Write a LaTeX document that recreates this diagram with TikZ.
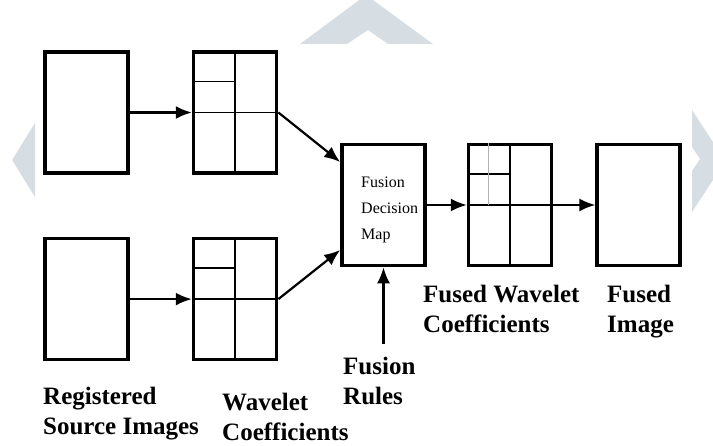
\documentclass[tikz,border=0pt]{standalone}
\usepackage{fontspec}
\setmainfont{Liberation Serif}
\usetikzlibrary{arrows.meta, positioning, calc}
\definecolor{wmark}{RGB}{214,222,227}

\begin{document}
\begin{tikzpicture}[
    x=1pt, y=-1pt,
    node distance=62pt and 62pt,
    img/.style={draw, line width=3.6pt, minimum width=83pt, minimum height=121pt, inner sep=0pt},
    grid/.style={line width=1.6pt},
    faint/.style={line width=0.9pt, black!30},
    arr/.style={-{Latex[length=16pt,width=13pt]}, line width=2.2pt},
    lbl/.style={font=\fontsize{25}{30}\selectfont\bfseries, align=left, inner sep=0pt, anchor=base west},
  ]
    \useasboundingbox (0,0) rectangle (713,446);

    % watermark
    \fill[wmark] (300,44) -- (366,-5) -- (433,44) -- (388,44) -- (368,30) -- (347,44) -- cycle;
    \fill[wmark] (35,123) -- (12,160) -- (35,197) -- cycle;
    \fill[wmark] (692,110) -- (713,142) -- (713,180) -- (692,212) -- (692,171) -- (700,159) -- (692,147) -- cycle;

    \node[img] (src1) at (86.5,112.5) {};
    \node[img, right=of src1] (wav1) {};
    \node[img, below=of src1] (src2) {};
    \node[img, right=of src2] (wav2) {};
    \node[img] (fusion) at (383.5,205) {};
    \node[img, right=40pt of fusion] (fwav) {};
    \node[img, right=42pt of fwav] (fimg) {};

    \node[anchor=base west, align=left, inner sep=0pt, font=\fontsize{16}{26}\selectfont] (fmap) at (361,240) {Fusion\\Decision\\Map};

    \foreach \b in {wav1, wav2, fwav} {
      \draw[grid] (\b.north) -- (\b.south) (\b.west) -- (\b.east)
        ($(\b.north west)!.5!(\b.west)$) -- ($(\b.north)!.5!(\b.center)$);
    }
    \draw[faint] ($(fwav.north west)!.5!(fwav.north)$) -- ($(fwav.west)!.5!(fwav.center)$);

    \node[lbl] (regsrc) at (43,435) {Registered\\Source Images};
    \node[lbl] (wavco) at (222,441) {Wavelet\\Coefficients};
    \node[lbl] (rules) at (343,405) {Fusion\\Rules};
    \node[lbl] (fwco) at (423,333) {Fused Wavelet\\Coefficients};
    \node[lbl] (fimco) at (607,333) {Fused\\Image};

    \draw[arr] (src1) -- (wav1);
    \draw[arr] (src2) -- (wav2);
    \draw[arr] (wav1.east) -- ([yshift=43pt]fusion.west);
    \draw[arr] (wav2.east) -- ([yshift=-45pt]fusion.west);
    \draw[arr] (fusion) -- (fwav);
    \draw[arr] (fwav) -- (fimg);
    \draw[arr] ($(fusion.south |- rules.north)+(0,-13)$) -- (fusion.south);
  \end{tikzpicture}
\end{document}
